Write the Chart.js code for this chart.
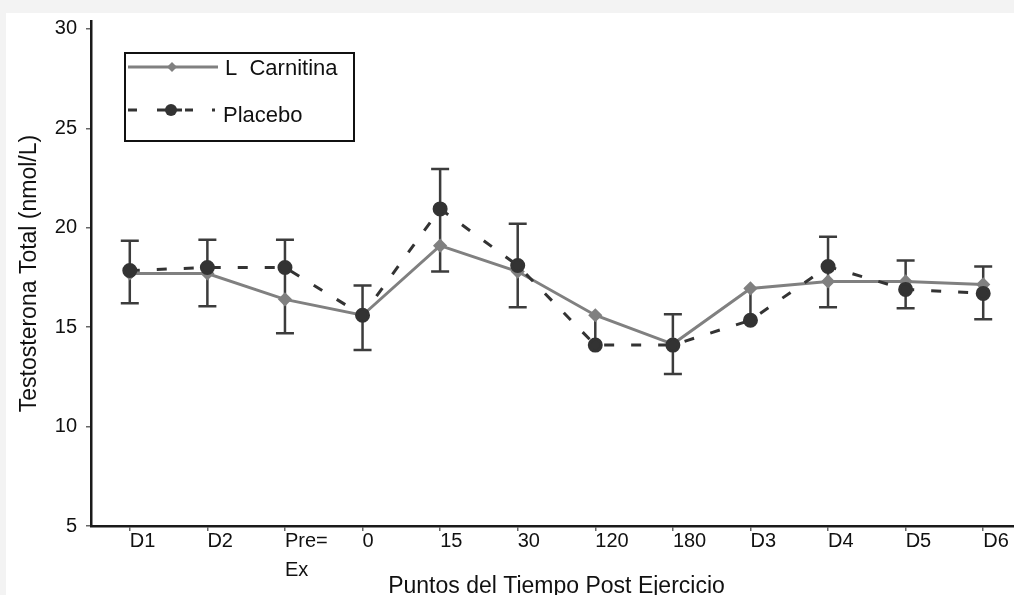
<!DOCTYPE html>
<html>
<head>
<meta charset="utf-8">
<script src="https://cdn.jsdelivr.net/npm/chart.js@4"></script>
<style>
  html, body { margin: 0; padding: 0; background: #f3f3f3; overflow: hidden; }
  #paper { position: absolute; left: 6px; top: 13px; width: 1008px; height: 582px; background: #fff; }
  #wrap { position: absolute; left: 6px; top: 0px; width: 1025px; height: 600px; }
</style>
</head>
<body>
<div id="paper"></div>
<div id="wrap"><canvas id="testoChart"></canvas></div>
<script>
// Testosterona total - L Carnitina vs Placebo

const timePoints = ['D1', 'D2', ['Pre=', 'Ex'], '0', '15', '30', '120', '180', 'D3', 'D4', 'D5', 'D6'];
const carnitina = [17.7, 17.7, 16.4, 15.6, 19.1, 17.8, 15.6, 14.15, 16.95, 17.3, 17.3, 17.15];
const placebo = [17.85, 18.0, 18.0, 15.6, 20.95, 18.1, 14.1, 14.1, 15.35, 18.05, 16.9, 16.7];
// error bars (one per time point)
const errHigh = [19.35, 19.4, 19.4, 17.1, 22.95, 20.2, 15.6, 15.65, 16.95, 19.55, 18.35, 18.05];
const errLow = [16.2, 16.05, 14.7, 13.85, 17.8, 16.0, 14.1, 12.65, 15.35, 16.0, 15.95, 15.4];
const errCaps = [true, true, true, true, true, true, false, true, false, true, true, true];
const yTicks = [5, 10, 15, 20, 25, 30];

const FONT = "'Liberation Sans', Arial, sans-serif";
const GRAY = '#808080';
const DARK = '#333333';

const errorBars = {
    id: 'errorBars',
    beforeDatasetsDraw(chart) {
        const { ctx, scales: { x, y } } = chart;
        ctx.save();
        ctx.strokeStyle = '#3c3c3c';
        ctx.lineWidth = 2.5;
        errHigh.forEach((hi, i) => {
            const px = x.getPixelForValue(i);
            const top = y.getPixelForValue(hi);
            const bot = y.getPixelForValue(errLow[i]);
            ctx.beginPath();
            ctx.moveTo(px, top);
            ctx.lineTo(px, bot);
            if (errCaps[i]) {
                ctx.moveTo(px - 9, top);
                ctx.lineTo(px + 9, top);
                ctx.moveTo(px - 9, bot);
                ctx.lineTo(px + 9, bot);
            }
            ctx.stroke();
        });
        ctx.restore();
    }
};

const boxLegend = {
    id: 'boxLegend',
    afterDraw(chart) {
        const { ctx, chartArea } = chart;
        const bx = chartArea.left + 34;
        const by = chartArea.top + 32;
        ctx.save();
        ctx.strokeStyle = '#111';
        ctx.lineWidth = 2;
        ctx.strokeRect(bx, by, 229, 88);

        // L Carnitina
        let ly = by + 14;
        ctx.strokeStyle = GRAY;
        ctx.lineWidth = 3;
        ctx.beginPath();
        ctx.moveTo(bx + 3, ly);
        ctx.lineTo(bx + 93, ly);
        ctx.stroke();
        ctx.fillStyle = GRAY;
        ctx.beginPath();
        ctx.moveTo(bx + 47, ly - 5);
        ctx.lineTo(bx + 52, ly);
        ctx.lineTo(bx + 47, ly + 5);
        ctx.lineTo(bx + 42, ly);
        ctx.closePath();
        ctx.fill();

        // Placebo
        ly = by + 57;
        ctx.strokeStyle = DARK;
        ctx.beginPath();
        [[3, 12], [32, 57], [60, 68]].forEach(([a, b]) => {
            ctx.moveTo(bx + a, ly);
            ctx.lineTo(bx + b, ly);
        });
        ctx.stroke();
        ctx.fillStyle = DARK;
        ctx.beginPath();
        ctx.arc(bx + 46, ly, 6, 0, Math.PI * 2);
        ctx.fill();
        ctx.fillRect(bx + 87, ly - 1.5, 3, 3);

        ctx.fillStyle = '#111';
        ctx.font = '22px ' + FONT;
        ctx.textBaseline = 'middle';
        ctx.fillText('L  Carnitina', bx + 100, by + 16);
        ctx.fillText('Placebo', bx + 98, by + 63);
        ctx.restore();
    }
};

window.addEventListener('DOMContentLoaded', () => {
    const ctx = document.getElementById('testoChart');
    new Chart(ctx, {
        type: 'line',
        data: {
            labels: timePoints,
            datasets: [
                {
                    label: 'L Carnitina',
                    data: carnitina,
                    borderColor: GRAY,
                    backgroundColor: GRAY,
                    borderWidth: 3,
                    pointStyle: 'rectRot',
                    pointRadius: 5,
                    tension: 0,
                    order: 2
                },
                {
                    label: 'Placebo',
                    data: placebo,
                    borderColor: DARK,
                    backgroundColor: DARK,
                    borderWidth: 3,
                    borderDash: [10, 17],
                    pointStyle: 'circle',
                    pointRadius: 6,
                    tension: 0,
                    order: 1
                }
            ]
        },
        options: {
            responsive: true,
            maintainAspectRatio: false,
            animation: false,
            layout: { padding: 0 },
            plugins: {
                legend: { display: false },
                tooltip: { enabled: false }
            },
            scales: {
                x: {
                    offset: true,
                    border: { color: '#1a1a1a', width: 2.5 },
                    grid: { drawOnChartArea: false, tickLength: 5, color: '#666', lineWidth: 1.5 },
                    ticks: {
                        color: '#111',
                        align: 'start',
                        padding: -4,
                        maxRotation: 0,
                        autoSkip: false,
                        font: { family: FONT, size: 20, lineHeight: '29px' }
                    },
                    title: {
                        display: true,
                        text: 'Puntos del Tiempo Post Ejercicio',
                        color: '#111',
                        padding: 0,
                        font: { family: FONT, size: 23 }
                    },
                    afterFit(scale) { scale.height = 74; }
                },
                y: {
                    min: 5,
                    max: 30.4,
                    afterBuildTicks(scale) { scale.ticks = yTicks.map(v => ({ value: v })); },
                    border: { color: '#1a1a1a', width: 2.5 },
                    grid: { drawOnChartArea: false, tickLength: 5, color: '#666', lineWidth: 1.5 },
                    ticks: {
                        color: '#111',
                        padding: 9,
                        font: { family: FONT, size: 20 }
                    },
                    title: {
                        display: true,
                        text: 'Testosterona Total (nmol/L)',
                        color: '#111',
                        padding: { top: 10, bottom: 0 },
                        font: { family: FONT, size: 23 }
                    },
                    afterFit(scale) { scale.width = 85; }
                }
            }
        },
        plugins: [errorBars, boxLegend]
    });
});
</script>
</body>
</html>
